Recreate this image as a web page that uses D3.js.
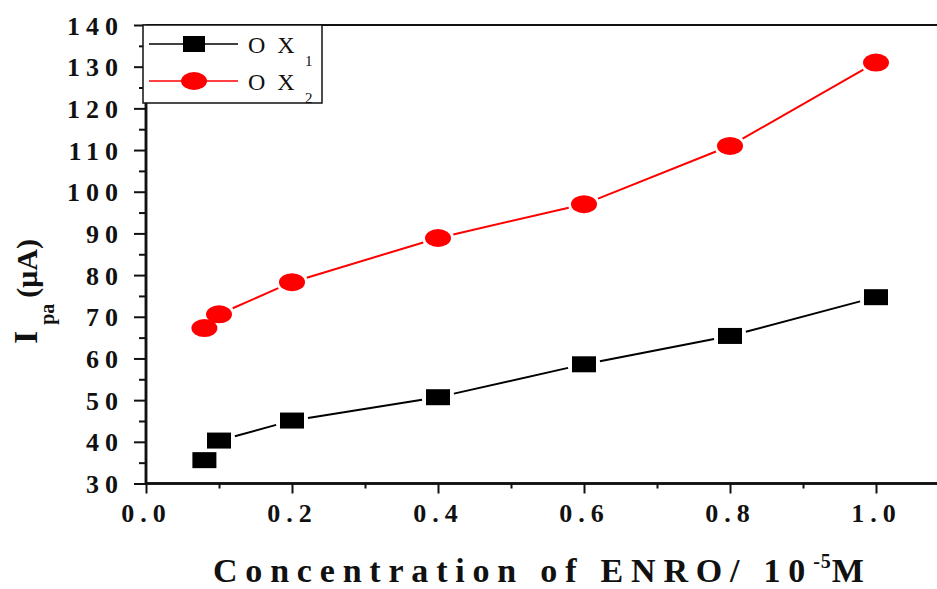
<!DOCTYPE html>
<html>
<head>
<meta charset="utf-8">
<script src="https://cdn.jsdelivr.net/npm/d3@7"></script>
<style>
  html, body { margin: 0; padding: 0; background: #fff; }
  svg { display: block; }
</style>
</head>
<body>
<svg id="chart" width="937" height="589"></svg>
<script>
// Concentration of ENRO (10^-5 M)
const concentrations = [0.08, 0.1, 0.2, 0.4, 0.6, 0.8, 1.0];
// Anodic peak currents (µA) for the two oxidation peaks
const ox1Values = [35.6, 40.3, 45.1, 50.7, 58.6, 65.4, 74.7];
const ox2Values = [67.3, 70.6, 78.3, 88.9, 97.0, 111.0, 131.0];
const xTickValues = [0.0, 0.2, 0.4, 0.6, 0.8, 1.0];
const xMinorTicks = [0.1, 0.3, 0.5, 0.7, 0.9, 1.1];
const yTickValues = [30, 40, 50, 60, 70, 80, 90, 100, 110, 120, 130, 140];
const yMinorTicks = [35, 45, 55, 65, 75, 85, 95, 105, 115, 125, 135];
const seriesNames = ["O X", "O X"];
const seriesSubs = ["1", "2"];

const SERIF = '"Liberation Serif"';
const svg = d3.select("#chart");
const x = d3.scaleLinear().domain([0, 1.1]).range([146, 146 + 730 * 1.1]);
const y = d3.scaleLinear().domain([30, 140]).range([483.5, 25]);

// Frame top line
svg.append("line")
  .attr("x1", x(0)).attr("x2", 937)
  .attr("y1", y(140)).attr("y2", y(140))
  .attr("stroke", "#111").attr("stroke-width", 2);

// Y axis with major and minor ticks
const yAxis = svg.append("g").attr("transform", `translate(${x(0)},0)`);
yAxis.call(d3.axisLeft(y).tickValues(yTickValues).tickSize(12).tickFormat(d3.format("d")));
yAxis.append("g").call(d3.axisLeft(y).tickValues(yMinorTicks).tickSize(7).tickFormat(""));
yAxis.selectAll(".domain").attr("stroke", "#111").attr("stroke-width", 2.5).attr("d", `M0,${y(140)}V${y(30)}`);
yAxis.selectAll(".tick line").attr("stroke", "#111").attr("stroke-width", 2);
yAxis.selectAll(".tick text")
  .attr("x", -22).attr("dy", "0.35em")
  .style("font-family", SERIF).attr("font-size", 26).attr("font-weight", "bold")
  .attr("letter-spacing", 6).attr("fill", "#111");

// X axis with major and minor ticks
const xAxis = svg.append("g").attr("transform", `translate(0,${y(30)})`);
xAxis.call(d3.axisBottom(x).tickValues(xTickValues).tickSize(10).tickFormat(d3.format(".1f")));
xAxis.append("g").call(d3.axisBottom(x).tickValues(xMinorTicks).tickSize(5).tickFormat(""));
xAxis.selectAll(".domain").attr("stroke", "#111").attr("stroke-width", 2.5).attr("d", `M${x(0)},0H937`);
xAxis.selectAll(".tick line").attr("stroke", "#111").attr("stroke-width", 2);
xAxis.selectAll(".tick text")
  .attr("y", 38).attr("dy", 0)
  .style("font-family", SERIF).attr("font-size", 26).attr("font-weight", "bold")
  .attr("letter-spacing", 6).attr("fill", "#111");

// Marker shapes
const sq = { w: 24, h: 16 };
const el = { rx: 13, ry: 9 };
function squareReach(ux, uy) {
  const a = Math.abs(ux) > 1e-9 ? (sq.w / 2) / Math.abs(ux) : Infinity;
  const b = Math.abs(uy) > 1e-9 ? (sq.h / 2) / Math.abs(uy) : Infinity;
  return Math.min(a, b);
}
function ellipseReach(ux, uy) {
  return 1 / Math.sqrt((ux / el.rx) ** 2 + (uy / el.ry) ** 2);
}

// Connecting segments stop short of each marker
function segments(values, reach, gap) {
  const out = [];
  for (let i = 0; i < values.length - 1; i++) {
    const x0 = x(concentrations[i]), y0 = y(values[i]);
    const x1 = x(concentrations[i + 1]), y1 = y(values[i + 1]);
    const dx = x1 - x0, dy = y1 - y0, L = Math.hypot(dx, dy);
    const ux = dx / L, uy = dy / L;
    const r = reach(ux, uy) + gap;
    if (L > 2 * r + 1) {
      out.push({ x1: x0 + ux * r, y1: y0 + uy * r, x2: x1 - ux * r, y2: y1 - uy * r });
    }
  }
  return out;
}

function drawSegments(data, color) {
  svg.append("g").selectAll("line").data(data).join("line")
    .attr("x1", d => d.x1).attr("y1", d => d.y1)
    .attr("x2", d => d.x2).attr("y2", d => d.y2)
    .attr("stroke", color).attr("stroke-width", 2);
}
drawSegments(segments(ox1Values, squareReach, 4), "#000");
drawSegments(segments(ox2Values, ellipseReach, 3), "#ff0000");

// OX1 squares
svg.append("g").selectAll("rect").data(ox1Values).join("rect")
  .attr("x", (d, i) => x(concentrations[i]) - sq.w / 2)
  .attr("y", d => y(d) - sq.h / 2)
  .attr("width", sq.w).attr("height", sq.h)
  .attr("fill", "#000");

// OX2 ellipses
svg.append("g").selectAll("ellipse").data(ox2Values).join("ellipse")
  .attr("cx", (d, i) => x(concentrations[i]))
  .attr("cy", d => y(d))
  .attr("rx", el.rx).attr("ry", el.ry)
  .attr("fill", "#ff0000");

// Legend
const legend = svg.append("g");
legend.append("rect")
  .attr("x", 143).attr("y", 25).attr("width", 179).attr("height", 78)
  .attr("fill", "#fff").attr("stroke", "#111").attr("stroke-width", 1.5);
const rows = [
  { y: 44, color: "#000", shape: "square" },
  { y: 81, color: "#ff0000", shape: "circle" }
];
rows.forEach((r, i) => {
  legend.append("line").attr("x1", 149).attr("x2", 238).attr("y1", r.y).attr("y2", r.y)
    .attr("stroke", r.color).attr("stroke-width", 1.5);
  if (r.shape === "square") {
    legend.append("rect").attr("x", 183).attr("y", r.y - 8).attr("width", 22).attr("height", 16).attr("fill", r.color);
  } else {
    legend.append("ellipse").attr("cx", 194).attr("cy", r.y).attr("rx", 13).attr("ry", 9).attr("fill", r.color);
  }
  legend.append("text").attr("x", 248).attr("y", r.y + 9)
    .style("font-family", SERIF).attr("font-size", 24).attr("fill", "#111").attr("letter-spacing", 3)
    .text(seriesNames[i]);
  legend.append("text").attr("x", 305).attr("y", r.y + 22)
    .style("font-family", SERIF).attr("font-size", 15).attr("fill", "#111")
    .text(seriesSubs[i]);
});

// X axis title
const xt = svg.append("text").attr("x", 213).attr("y", 582)
  .style("font-family", SERIF).attr("font-size", 34).attr("font-weight", "bold").attr("fill", "#111")
  .attr("letter-spacing", 7.8);
xt.append("tspan").text("Concentration of ENRO/ 10");
xt.append("tspan").attr("dy", -14).attr("font-size", 20).attr("letter-spacing", 1).text("-5");
xt.append("tspan").attr("dy", 14).text("M");

// Y axis title
const yt = svg.append("text").attr("transform", "translate(37,344) rotate(-90)")
  .style("font-family", SERIF).attr("font-weight", "bold").attr("fill", "#111");
yt.append("tspan").attr("font-size", 34).text("I");
yt.append("tspan").attr("dx", 6).attr("dy", 17).attr("font-size", 20).text("pa");
yt.append("tspan").attr("dx", 6).attr("dy", -17).attr("font-size", 30).text("(μA)");
</script>
</body>
</html>
